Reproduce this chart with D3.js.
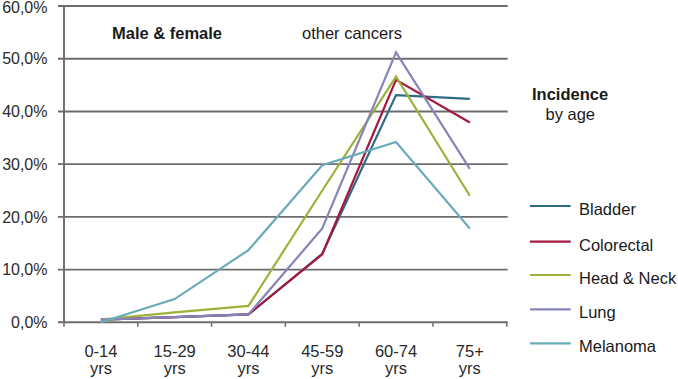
<!DOCTYPE html>
<html><head><meta charset="utf-8">
<script src="https://cdn.jsdelivr.net/npm/d3@7"></script>
<style>body{margin:0;background:#fff;}svg{display:block;font-family:"Liberation Sans",Arial,sans-serif;}</style>
</head><body><svg id="c" width="678" height="379"></svg>
<script>
const categories = ["0-14", "15-29", "30-44", "45-59", "60-74", "75+"];
const seriesNames = ["Bladder", "Colorectal", "Head & Neck", "Lung", "Melanoma"];
const bladder    = [0.5, 1.0, 1.5, 13.0, 43.1, 42.4];
const colorectal = [0.5, 1.0, 1.5, 12.9, 46.0, 37.9];
const headNeck   = [0.5, 1.9, 3.1, 25.0, 46.6, 24.0];
const lung       = [0.5, 1.0, 1.5, 17.8, 51.2, 29.1];
const melanoma   = [0.0, 4.4, 13.7, 29.8, 34.2, 17.8];
const yTicks = [0, 10, 20, 30, 40, 50, 60];
const colors = ["#2E6C86", "#A5183F", "#9CB23A", "#8585B9", "#6AABB8"];

const series = [bladder, colorectal, headNeck, lung, melanoma];
const svg = d3.select("#c");
const L = 64, R = 506.7, T = 6, B = 322.3;
const x = d3.scaleBand().domain(categories).range([L, R]).paddingInner(0).paddingOuter(0);
const y = d3.scaleLinear().domain([0, 60]).range([B, T]);
const gridColor = "#6c6c6c";
const fs = 16.5;

// gridlines + y tick labels
yTicks.forEach(t => {
  svg.append("line").attr("x1", L - 6).attr("x2", R + 1).attr("y1", y(t)).attr("y2", y(t))
    .attr("stroke", gridColor).attr("stroke-width", 1.9);
  svg.append("text").attr("x", 47.5).attr("y", Math.max(y(t), 7.5)).attr("dy", "0.36em")
    .attr("text-anchor", "end").attr("font-size", 16).attr("fill", "#2a2a2a")
    .text(d3.format(".1f")(t).replace(".", ",") + "%");
});
// y axis line
svg.append("line").attr("x1", L).attr("x2", L).attr("y1", y(60)).attr("y2", y(0))
  .attr("stroke", gridColor).attr("stroke-width", 1.9);
// x ticks at band boundaries
const bounds = categories.map(c => x(c)).concat([x(categories[categories.length-1]) + x.bandwidth()]);
bounds.forEach(bx => {
  svg.append("line").attr("x1", bx).attr("x2", bx).attr("y1", B).attr("y2", B + 4.5)
    .attr("stroke", gridColor).attr("stroke-width", 1.5);
});
// x labels
categories.forEach(c => {
  const cx = x(c) + x.bandwidth() / 2;
  const t = svg.append("text").attr("text-anchor", "middle").attr("font-size", fs).attr("fill", "#2a2a2a");
  t.append("tspan").attr("x", cx).attr("y", 356.5).text(c);
  t.append("tspan").attr("x", cx).attr("y", 374).text("yrs");
});

// lines
const line = d3.line().x((d, i) => x(categories[i]) + x.bandwidth() / 2).y(d => y(d));
series.forEach((s, i) => {
  svg.append("path").attr("d", line(s)).attr("fill", "none")
    .attr("stroke", colors[i]).attr("stroke-width", 2.2).attr("stroke-linejoin", "miter");
});

// titles
svg.append("text").attr("x", 112).attr("y", 39).attr("font-size", fs).attr("font-weight", "bold")
  .attr("fill", "#1a1a1a").text("Male & female");
svg.append("text").attr("x", 302).attr("y", 39).attr("font-size", fs).attr("fill", "#1a1a1a").text("other cancers");
svg.append("text").attr("x", 532).attr("y", 100).attr("font-size", fs).attr("font-weight", "bold")
  .attr("fill", "#1a1a1a").text("Incidence");
svg.append("text").attr("x", 545.5).attr("y", 119.5).attr("font-size", fs).attr("fill", "#1a1a1a").text("by age");

// legend
const legendY = [206, 241.7, 275, 309.3, 343.3];
seriesNames.forEach((n, i) => {
  svg.append("line").attr("x1", 530).attr("x2", 570.7).attr("y1", legendY[i]).attr("y2", legendY[i])
    .attr("stroke", colors[i]).attr("stroke-width", 2.2);
  svg.append("text").attr("x", 579).attr("y", legendY[i] + 3).attr("dy", "0.36em")
    .attr("font-size", fs).attr("fill", "#1a1a1a").text(n);
});
</script></body></html>
